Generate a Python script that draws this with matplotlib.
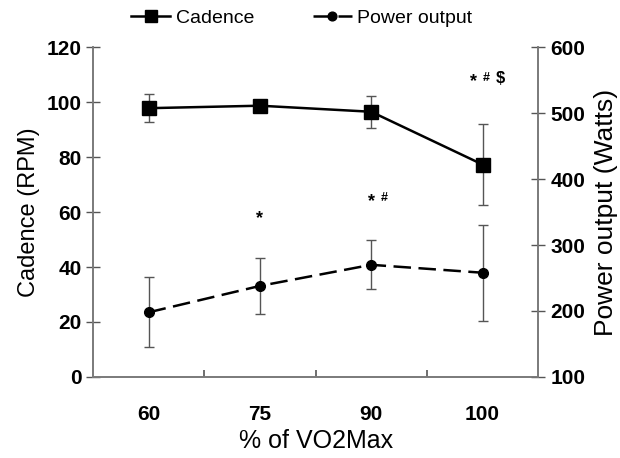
import numpy as np
import matplotlib
matplotlib.use("Agg")
import matplotlib.pyplot as plt

plt.rcParams['font.family'] = ['Liberation Sans', 'DejaVu Sans']

# data
categories = ["60", "75", "90", "100"]
cadence = [97.8, 98.7, 96.5, 77.3]
cadence_err = [5.0, 2.0, 5.8, 14.8]
power = [198, 238, 270, 258]
power_err = [53, 43, 37, 73]

# significance marks: star, superscripts, star height on the cadence axis
marks = ["", "*", "*", "*"]
marks_sup = ["", "", "#", "#$"]
marks_y = [0, 57.5, 63.8, 107.5]

axis_grey = "#7a7a7a"
tick_grey = "#555555"

fig = plt.figure(figsize=(6.2, 4.58), dpi=100)
ax = fig.add_axes([0.150, 0.177, 0.718, 0.720])
ax2 = ax.twinx()

x = np.arange(len(categories))

ax.errorbar(x, cadence, yerr=cadence_err, fmt='none', ecolor=tick_grey,
            elinewidth=1.0, capsize=3.5, capthick=1.0, zorder=2)
ln1, = ax.plot(x, cadence, color='black', lw=1.8, marker='s', ms=9.5,
               zorder=3, label='Cadence')

ax2.errorbar(x, power, yerr=power_err, fmt='none', ecolor=tick_grey,
             elinewidth=1.0, capsize=3.5, capthick=1.0, zorder=2)
ln2, = ax2.plot(x, power, color='black', lw=1.8, marker='o', ms=7,
                dashes=(7, 3), zorder=3, label='Power output')

ax.set_xlim(-0.5, len(categories) - 0.5)
ax.set_ylim(0, 120)
ax.set_yticks(np.arange(0, 121, 20))
ax2.set_ylim(100, 600)
ax2.set_yticks(np.arange(100, 601, 100))

ax.set_xticks(x)
ax.set_xticklabels(categories)
ax.set_xticks(np.arange(0.5, len(categories) - 0.5, 1), minor=True)
ax.tick_params(axis='x', which='major', length=0, pad=20)
ax.tick_params(axis='x', which='minor', direction='in', length=5,
               width=1.2, color=tick_grey)

ax.tick_params(axis='y', direction='inout', length=10, width=1.0,
               color=tick_grey, pad=3)
ax2.tick_params(axis='y', direction='inout', length=10, width=1.0,
                color=tick_grey, pad=4)

for a in (ax, ax2):
    for lab in a.get_xticklabels() + a.get_yticklabels():
        lab.set_fontweight('bold')
        lab.set_fontsize(15)
    a.spines['top'].set_visible(False)
    for s in ('left', 'right', 'bottom'):
        a.spines[s].set_color(axis_grey)
        a.spines[s].set_linewidth(1.2)

ax.set_ylabel("Cadence (RPM)", fontsize=17, labelpad=5)
ax2.set_ylabel("Power output (Watts)", fontsize=19, labelpad=6)
ax.set_xlabel("% of VO2Max", fontsize=18, labelpad=4)

for xi, m, sup, my in zip(x, marks, marks_sup, marks_y):
    if not m:
        continue
    start = -9 * max(len(sup) - 1, 0)
    ax.annotate(m, (xi, my), xytext=(start * 0.72, 0),
                textcoords='offset points', ha='center', va='center',
                fontsize=13, fontweight='bold')
    for k, ch in enumerate(sup):
        size = 9 if ch == '#' else 12
        ax.annotate(ch, (xi, my), xytext=((start + 13 + 14 * k) * 0.72, 2.5),
                    textcoords='offset points', ha='center', va='center',
                    fontsize=size, fontweight='bold')

fig.legend(handles=[ln1, ln2], loc='center', bbox_to_anchor=(0.487, 0.960),
           ncol=2, frameon=False, fontsize=14, handlelength=2.0,
           handletextpad=0.3, columnspacing=3.0, markerscale=0.9)

fig.savefig("out.png", dpi=100)
